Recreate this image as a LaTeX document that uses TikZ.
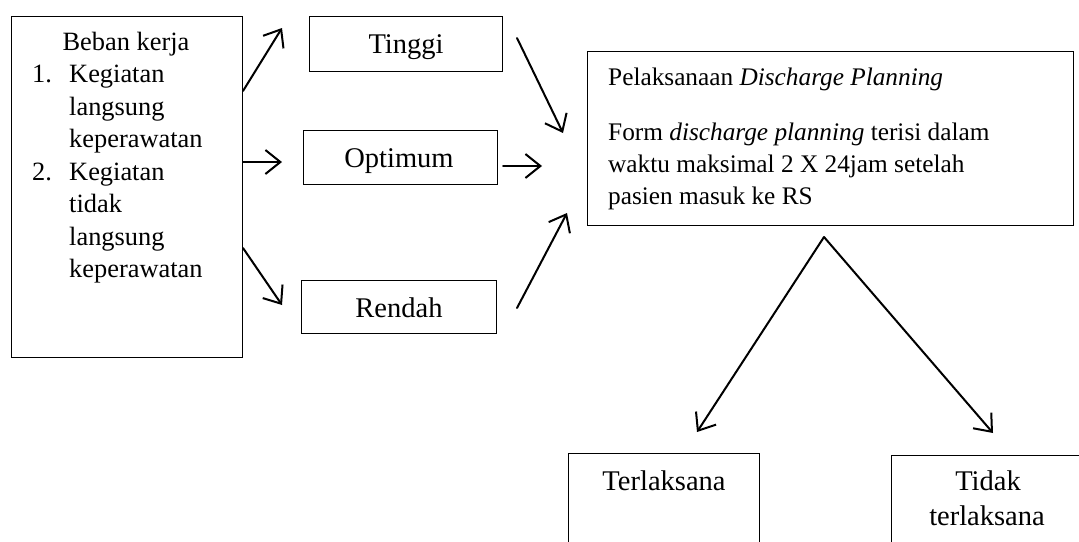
\documentclass[tikz,border=0pt]{standalone}
\usepackage{fontspec}
\setmainfont{Liberation Serif}
\usetikzlibrary{arrows.meta}
\begin{document}
\begin{tikzpicture}[x=1pt,y=-1pt,
  box/.style={draw, line width=1.2pt, inner sep=0pt, anchor=north west},
  arr/.style={line width=2pt, line cap=round, line join=round,
    -{Straight Barb[length=15pt,width=24pt,line width=2pt]}},
  ltxt/.style={font=\fontsize{26.4}{32}\selectfont, anchor=base west, inner sep=0pt},
  ctxt/.style={font=\fontsize{28.5}{34}\selectfont, anchor=base, inner sep=0pt},
  dtxt/.style={font=\fontsize{25.3}{32}\selectfont, anchor=base west, inner sep=0pt}]
\clip (0,0) rectangle (1079,541);
\fill[white] (0,0) rectangle (1079,541);
% boxes
\node[box, minimum width=231pt, minimum height=341pt] (lb) at (11,16) {};
\node[box, minimum width=193pt, minimum height=55pt] (tb) at (309,16) {};
\node[box, minimum width=194pt, minimum height=54pt] (ob) at (303,130) {};
\node[box, minimum width=195pt, minimum height=53pt] (rb) at (301,280) {};
\node[box, minimum width=486pt, minimum height=174pt] (db) at (587,51) {};
\node[box, minimum width=191pt, minimum height=120pt] (teb) at (568,453) {};
\node[box, minimum width=200pt, minimum height=120pt] (tib) at (891,455) {};
% left texts
\node[ltxt, anchor=base] (l0) at (126,50) {Beban kerja};
\node[ltxt] (n1) at (32,82.5) {1.};
\node[ltxt] (l1) at (69,82.5) {Kegiatan};
\node[ltxt] (l2) at (69,115) {langsung};
\node[ltxt] (l3) at (69,147.5) {keperawatan};
\node[ltxt] (n2) at (32,180) {2.};
\node[ltxt] (l4) at (69,180) {Kegiatan};
\node[ltxt] (l5) at (69,212.5) {tidak};
\node[ltxt] (l6) at (69,245) {langsung};
\node[ltxt] (l7) at (69,277.5) {keperawatan};
% middle texts
\node[ctxt] (tt) at (406,53) {Tinggi};
\node[ctxt] (ot) at (399,167) {Optimum};
\node[ctxt] (rt) at (399,317) {Rendah};
% discharge texts
\node[dtxt] (d1) at (608,85) {Pelaksanaan \textit{Discharge Planning}};
\node[dtxt] (d2) at (608,140) {Form \textit{discharge planning} terisi dalam};
\node[dtxt] (d3) at (608,172) {waktu maksimal 2 X 24jam setelah};
\node[dtxt] (d4) at (608,204) {pasien masuk ke RS};
% bottom texts
\node[ctxt] (tet) at (664,490) {Terlaksana};
\node[ctxt] (tit1) at (988,490) {Tidak};
\node[ctxt] (tit2) at (987,525) {terlaksana};
% connector coordinates
\coordinate (a1s) at (243,91);  \coordinate (a1e) at (282,28);
\coordinate (a2s) at (243,162); \coordinate (a2e) at (282,162);
\coordinate (a3s) at (243,248); \coordinate (a3e) at (282,305);
\coordinate (b1s) at (517,38);  \coordinate (b1e) at (563,133);
\coordinate (b2s) at (503,166); \coordinate (b2e) at (542,166);
\coordinate (b3s) at (517,308); \coordinate (b3e) at (567,213);
\coordinate (apex) at (824,237);
\coordinate (c1e) at (697,432);
\coordinate (c2e) at (993,433);
% arrows
\draw[arr] (a1s) -- (a1e);
\draw[arr] (a2s) -- (a2e);
\draw[arr] (a3s) -- (a3e);
\draw[arr] (b1s) -- (b1e);
\draw[arr] (b2s) -- (b2e);
\draw[arr] (b3s) -- (b3e);
\draw[arr] (apex) -- (c1e);
\draw[arr] (apex) -- (c2e);
\end{tikzpicture}
\end{document}
